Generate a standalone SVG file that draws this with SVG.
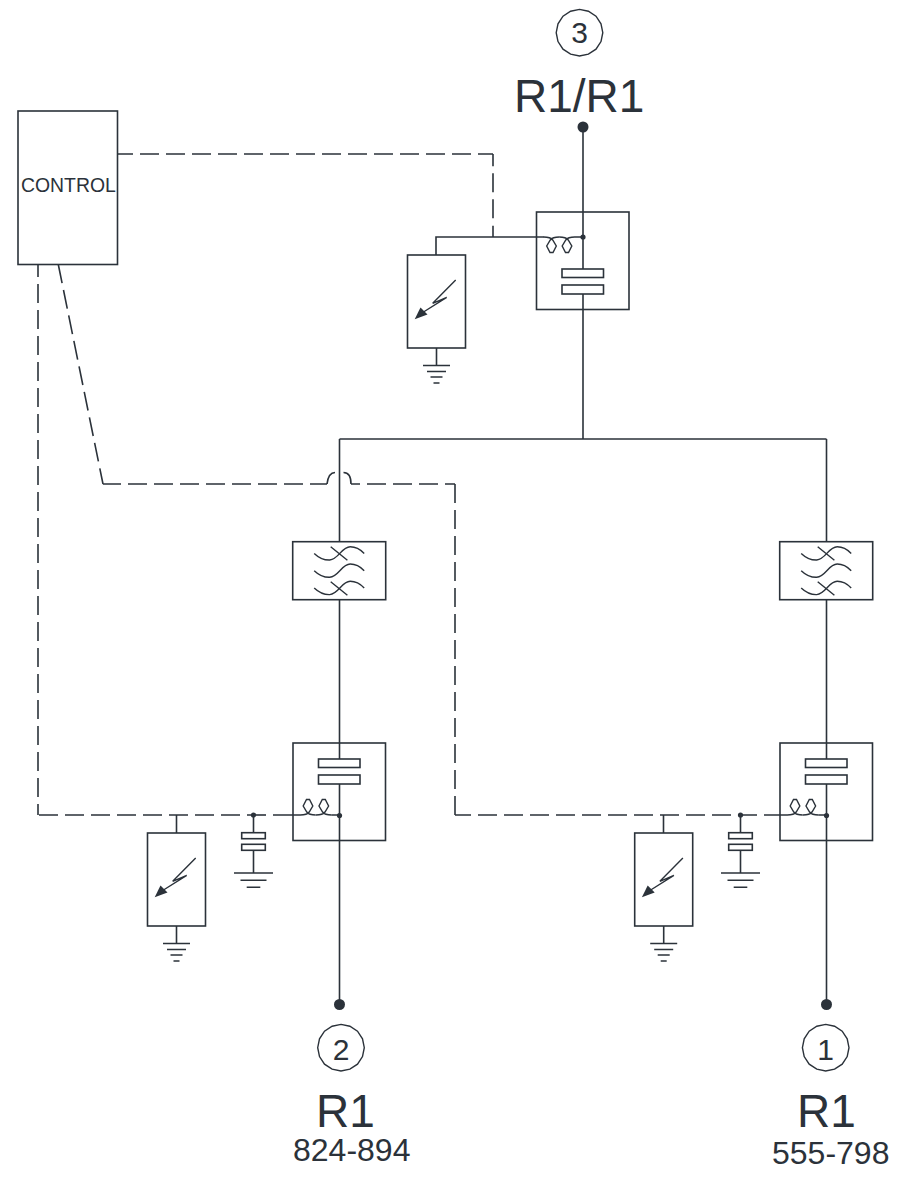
<svg xmlns="http://www.w3.org/2000/svg" xmlns:xlink="http://www.w3.org/1999/xlink" width="900" height="1180" viewBox="0 0 900 1180">
<style>
.l{fill:none;stroke:#2b323a;stroke-width:1.6}
.box{fill:#fff;stroke:#2b323a;stroke-width:1.6}
.thin{fill:none;stroke:#2b323a;stroke-width:1.4}
.d{fill:none;stroke:#2b323a;stroke-width:1.6;stroke-dasharray:19 7}
.dot{fill:#2b323a}
.t{font-family:"Liberation Sans",Arial,sans-serif;fill:#2b323a}
.big{font-size:46px}
.mid{font-size:32px}
.num{font-size:30px;text-anchor:middle}
</style>
<defs>
<g id="arrester">
<rect class="box" x="0" y="0" width="58" height="93"/>
<path class="l" d="M29,93V110.5M15.5,110.5H42.5M19.5,116.5H38.5M23,122H35M26,128H32"/>
<path class="thin" d="M48.2,25L25.2,48.3L39.2,42.3L16,57"/>
<polygon class="dot" points="7.2,64.3 13,52.5 20,59.5"/>
</g>
<g id="smallcap">
<path class="l" d="M0,0V18M0,35.5V58M-19.5,58H19.5M-13,65.3H13M-6.8,72.3H6.8"/>
<rect class="box" x="-11.8" y="17.7" width="23.6" height="6"/>
<rect class="box" x="-11.8" y="29.3" width="23.6" height="6"/>
</g>
<path id="coil" class="thin" d="M-7.8,0C-4,0-1,0 1.2,-3L4.8,-9L1.5,-15.5H-1.5L-4.8,-9L-1.2,-3C1,0 4,0 7.8,0"/>
<g id="filter">
<rect class="box" x="0" y="0" width="93" height="58"/>
<path class="thin" d="M21.5,11.7C26,16 31,18.5 37,18.3C46,17.5 49,5 57.5,5C64,5 68,8 71.5,11.7M21.5,29C26,33.3 31,35.8 37,35.6C46,34.8 49,22.3 57.5,22.3C64,22.3 68,25.3 71.5,29M21.5,46.3C26,50.6 31,53.1 37,52.9C46,52.1 49,39.6 57.5,39.6C64,39.6 68,42.6 71.5,46.3M38,5L54.7,18.5M38,40L54.7,53.5"/>
</g>
<polygon id="ring" class="thin" points="0,-23.3 8.9,-21.5 16.5,-16.5 21.5,-8.9 23.3,0 21.5,8.9 16.5,16.5 8.9,21.5 0,23.3 -8.9,21.5 -16.5,16.5 -21.5,8.9 -23.3,0 -21.5,-8.9 -16.5,-16.5 -8.9,-21.5"/>
</defs>
<g id="connectors">
<path class="l" d="M583,127V269M583,294V439M339.5,439H826.5M339.5,439V760M826.5,439V760M339.5,784V1003M826.5,784V1003"/>
<path class="l" d="M583,237H574.5M436,255V237H544"/>
<path class="d" stroke-dashoffset="3.5" d="M117.5,154H493"/>
<path class="d" stroke-dashoffset="6.7" d="M493,154V218.5"/>
<path class="l" d="M493,225.7V237"/>
<path class="d" stroke-dashoffset="6.5" d="M38,264.5V815"/>
<path class="d" stroke-dashoffset="25" d="M38,815H266"/>
<path class="l" d="M273,815H300.5M331.5,815H339.5"/>
<path class="d" d="M58.3,264.5L103,484"/>
<path class="d" stroke-dashoffset="1" d="M103,484H327"/>
<path class="l" d="M327,484C328,476 331,472.5 335,472.5M343.5,472.5C348,472.5 351,476 351,484"/>
<path class="d" stroke-dashoffset="10" d="M351,484H455"/>
<path class="d" d="M455,484V815"/>
<path class="d" stroke-dashoffset="3" d="M455,815H757"/>
<path class="l" d="M764,815H787.5M818.5,815H826.5"/>
<path class="l" d="M176.5,815V833M663.5,815V833"/>
</g>
<g id="control">
<rect class="box" x="18" y="111" width="99.5" height="153.5"/>
<text class="t" x="21" y="192.3" font-size="19.4">CONTROL</text>
</g>
<g id="port-3">
<use href="#ring" x="579.5" y="32.7"/>
<text class="t num" x="579.5" y="43">3</text>
<text class="t big" x="514" y="112">R1/R1</text>
<circle class="dot" cx="583" cy="127" r="5.5"/>
</g>
<g id="port-2">
<circle class="dot" cx="339.5" cy="1004.5" r="5.5"/>
<use href="#ring" x="341" y="1047.7"/>
<text class="t num" x="341" y="1060">2</text>
<text class="t big" x="316" y="1127">R1</text>
<text class="t mid" x="293" y="1161">824-894</text>
</g>
<g id="port-1">
<circle class="dot" cx="826.5" cy="1004.5" r="5.5"/>
<use href="#ring" x="825.7" y="1047.7"/>
<text class="t num" x="825.7" y="1060">1</text>
<text class="t big" x="797" y="1127">R1</text>
<text class="t mid" x="772" y="1164">555-798</text>
</g>
<g id="coupler-3">
<rect class="box" style="fill:none" x="536.5" y="212" width="92.5" height="97.5"/>
<rect class="box" x="562" y="269" width="41.5" height="8.5"/>
<rect class="box" x="562" y="285" width="41.5" height="9"/>
<use href="#coil" transform="translate(551.5,237) scale(1,-1)"/>
<use href="#coil" transform="translate(567,237) scale(1,-1)"/>
<circle class="dot" cx="583" cy="237" r="2.6"/>
</g>
<g id="arrester-3"><use href="#arrester" x="407.5" y="255"/></g>
<g id="filter-2"><use href="#filter" x="292.7" y="541.7"/></g>
<g id="filter-1"><use href="#filter" x="779.7" y="541.7"/></g>
<g id="coupler-2">
<rect class="box" style="fill:none" x="293" y="743" width="92.5" height="97.5"/>
<rect class="box" x="318.5" y="759" width="41.5" height="8.5"/>
<rect class="box" x="318.5" y="775" width="41.5" height="9"/>
<use href="#coil" x="308" y="815"/>
<use href="#coil" x="323.8" y="815"/>
<circle class="dot" cx="339.5" cy="815.5" r="2.6"/>
</g>
<g id="coupler-1">
<rect class="box" style="fill:none" x="780" y="743" width="92.5" height="97.5"/>
<rect class="box" x="805.5" y="759" width="41.5" height="8.5"/>
<rect class="box" x="805.5" y="775" width="41.5" height="9"/>
<use href="#coil" x="795" y="815"/>
<use href="#coil" x="810.8" y="815"/>
<circle class="dot" cx="826.5" cy="815.5" r="2.6"/>
</g>
<g id="arrester-2"><use href="#arrester" x="147.5" y="833"/></g>
<g id="arrester-1"><use href="#arrester" x="634.7" y="833"/></g>
<g id="cap-2"><use href="#smallcap" x="253.5" y="815"/><circle class="dot" cx="253.5" cy="815" r="2.6"/></g>
<g id="cap-1"><use href="#smallcap" x="740.5" y="815"/><circle class="dot" cx="740.5" cy="815" r="2.6"/></g>
</svg>
